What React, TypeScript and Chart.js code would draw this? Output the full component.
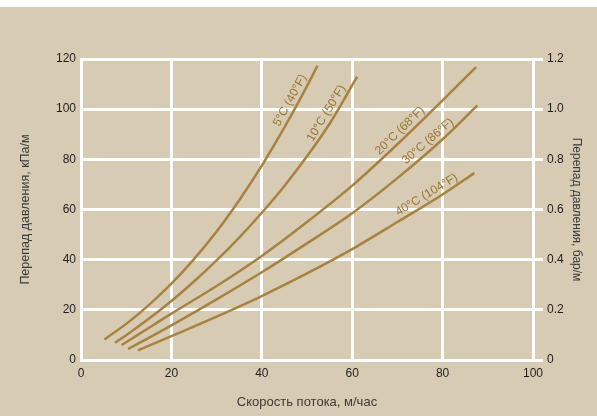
import { useEffect, useRef } from 'react';
import { Chart, registerables } from 'chart.js';

Chart.register(...registerables);

// ---- data ----
const seriesNames = ['5°C (40°F)', '10°C (50°F)', '20°C (68°F)', '30°C (86°F)', '40°C (104°F)'];

const flow5C = [5.2, 10, 15, 20, 25, 30, 35, 40, 45, 50, 52.3];
const drop5C = [8.2, 14.4, 21.9, 30.4, 40.2, 51.2, 63.7, 77.5, 92.7, 109.2, 117.3];

const flow10C = [7.5, 10, 15, 20, 25, 30, 35, 40, 45, 50, 55, 61.1];
const drop10C = [6.9, 9.9, 16.4, 23.5, 31.3, 39.7, 48.8, 58.7, 69.4, 81.2, 94.2, 113];

const flow20C = [9, 13, 20, 30, 40, 50, 60, 70, 80, 87.4];
const drop20C = [6, 10.5, 18.5, 29.5, 41.5, 55, 69.5, 86, 103.5, 116.8];

const flow30C = [10.4, 15, 20, 30, 40, 50, 60, 70, 80, 87.7];
const drop30C = [4.4, 8.8, 13.8, 24.2, 35, 46.5, 58.5, 72.5, 88, 101.5];

const flow40C = [12.6, 20, 30, 40, 50, 60, 70, 80, 87];
const drop40C = [3.8, 9.5, 17.3, 25.5, 34.5, 44.2, 55, 66, 74.5];

const flows = [flow5C, flow10C, flow20C, flow30C, flow40C];
const drops = [drop5C, drop10C, drop20C, drop30C, drop40C];

// where along each curve (flow value) its label sits
const labelAtFlow = [47.8, 55.8, 71.8, 77.9, 77.4];

const xTitle = 'Скорость потока, м/час';
const yTitle = 'Перепад давления, кПа/м';
const y2Title = 'Перепад давления, бар/м';

// ---- styles ----
const BEIGE = '#d7cbb4';
const LINE = '#a88240';
const LABEL = '#9a7434';
const TICK = '#1e1e1e';
const TITLE = '#3a3a3a';
const FONT = "'Liberation Sans', Arial, sans-serif";

function interp(xs: number[], ys: number[], v: number): number {
  if (v <= xs[0]) return ys[0];
  for (let i = 1; i < xs.length; i++) {
    if (v <= xs[i]) {
      const t = (v - xs[i - 1]) / (xs[i] - xs[i - 1]);
      return ys[i - 1] + t * (ys[i] - ys[i - 1]);
    }
  }
  return ys[ys.length - 1];
}

const curveLabels = {
  id: 'curveLabels',
  afterDatasetsDraw(chart: any) {
    const { ctx } = chart;
    const xs = chart.scales.x;
    const ys = chart.scales.y;
    seriesNames.forEach((name, i) => {
      const at = labelAtFlow[i];
      const a = at - 1.5;
      const b = at + 1.5;
      const p0 = { x: xs.getPixelForValue(a), y: ys.getPixelForValue(interp(flows[i], drops[i], a)) };
      const p1 = { x: xs.getPixelForValue(b), y: ys.getPixelForValue(interp(flows[i], drops[i], b)) };
      const pm = { x: xs.getPixelForValue(at), y: ys.getPixelForValue(interp(flows[i], drops[i], at)) };
      const dx = p1.x - p0.x;
      const dy = p1.y - p0.y;
      const len = Math.hypot(dx, dy);
      const tx = dx / len;
      const ty = dy / len;
      const nx = ty;
      const ny = -tx;
      const off = 8;
      const cx = pm.x + nx * off;
      const cy = pm.y + ny * off;
      ctx.save();
      ctx.translate(cx, cy);
      ctx.rotate(Math.atan2(dy, dx));
      ctx.font = `12px ${FONT}`;
      ctx.fillStyle = LABEL;
      ctx.textAlign = 'center';
      ctx.textBaseline = 'middle';
      ctx.fillText(name, 0, 0);
      ctx.restore();
    });
  },
};

export default function App() {
  const ref = useRef<HTMLCanvasElement | null>(null);

  useEffect(() => {
    if (!ref.current) return;
    Chart.defaults.font.family = FONT;
    const chart = new Chart(ref.current, {
      type: 'line',
      data: {
        datasets: seriesNames.map((name, i) => ({
          label: name,
          data: flows[i].map((f, j) => ({ x: f, y: drops[i][j] })),
          borderColor: LINE,
          borderWidth: 2.5,
          pointRadius: 0,
          fill: false,
          cubicInterpolationMode: 'monotone' as const,
        })),
      },
      options: {
        responsive: false,
        animation: false,
        layout: { padding: { top: 52, left: 0, right: 0, bottom: 0 } },
        plugins: { legend: { display: false }, tooltip: { enabled: false } },
        scales: {
          x: {
            type: 'linear',
            min: 0,
            max: 100,
            ticks: { stepSize: 20, color: TICK, font: { size: 12 }, padding: 6 },
            grid: { color: '#ffffff', lineWidth: 3, drawTicks: false },
            border: { color: '#ffffff', width: 3 },
            title: { display: true, text: xTitle, color: TITLE, font: { size: 13 }, padding: { top: 4, bottom: 6 } },
            afterFit: (s: any) => { s.height = 56; },
          },
          y: {
            type: 'linear',
            position: 'left',
            min: 0,
            max: 120,
            ticks: { stepSize: 20, color: TICK, font: { size: 12 }, padding: 5 },
            grid: { color: '#ffffff', lineWidth: 3, drawTicks: false },
            border: { color: '#ffffff', width: 3 },
            title: { display: true, text: yTitle, color: TITLE, font: { size: 12.5 }, padding: { top: 18, bottom: 4 } },
            afterFit: (s: any) => { s.width = 81; },
          },
          y2: {
            type: 'linear',
            position: 'right',
            min: 0,
            max: 1.2,
            ticks: {
              stepSize: 0.2,
              color: TICK,
              font: { size: 12 },
              padding: 4,
              callback: (v: any) => (Number(v) === 0 ? '0' : Number(v).toFixed(1)),
            },
            grid: { color: '#ffffff', lineWidth: 3, drawOnChartArea: false, drawTicks: true, tickLength: 10 },
            border: { color: '#ffffff', width: 3 },
            title: { display: true, text: y2Title, color: TITLE, font: { size: 12 }, padding: { top: 13, bottom: 4 } },
            afterFit: (s: any) => { s.width = 64; },
          },
        },
      },
      plugins: [curveLabels],
    });
    return () => chart.destroy();
  }, []);

  return (
    <div style={{ position: 'absolute', left: 0, top: 0, width: 597, height: 416, background: '#ffffff' }}>
      <div style={{ position: 'absolute', left: 0, top: 7, width: 597, height: 409, background: BEIGE }}>
        <canvas ref={ref} width={597} height={409} style={{ display: 'block', width: 597, height: 409 }} />
      </div>
    </div>
  );
}
